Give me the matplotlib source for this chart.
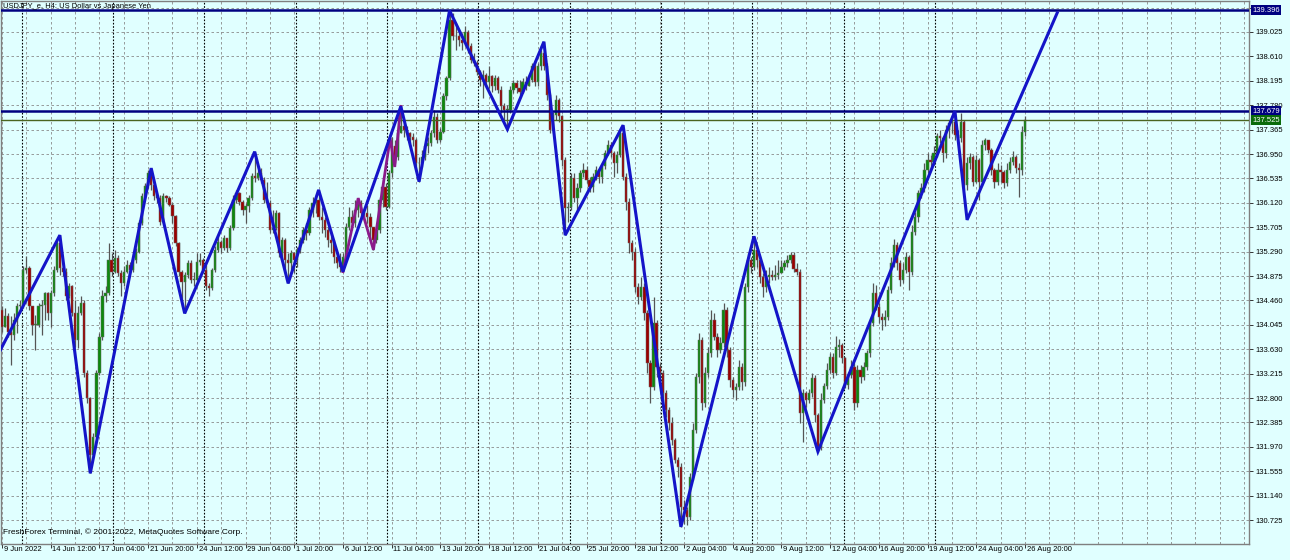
import matplotlib
matplotlib.use("Agg")
import matplotlib.pyplot as plt
import numpy as np

# H4 candles, 9 Jun 2022 20:00 .. 26 Aug 2022 20:00 (one value per bar)
first_open = 134.30
closes = [
    134.01, 134.19, 133.93, 133.87, 134.13, 134.36, 134.38, 134.98, 135.01, 134.36,
    134.04, 134.04, 134.36, 134.38, 134.58, 134.24, 134.58, 134.98, 135.43, 135.01,
    134.95, 134.53, 134.70, 134.24, 133.79, 134.24, 134.41, 133.22, 132.80, 131.83,
    132.14, 133.22, 133.84, 134.53, 134.58, 135.15, 134.95, 135.18, 134.92, 134.75,
    134.95, 135.06, 134.98, 135.15, 135.29, 135.77, 136.23, 136.40, 136.62, 136.42,
    136.23, 136.20, 135.80, 136.23, 136.20, 136.08, 135.89, 135.43, 134.95, 134.78,
    134.89, 135.09, 134.81, 134.81, 135.12, 135.15, 134.98, 134.70, 134.67, 134.98,
    135.32, 135.46, 135.35, 135.52, 135.35, 135.69, 136.17, 136.28, 136.14, 136.00,
    136.06, 136.20, 136.57, 136.54, 136.62,
    136.51, 136.17, 136.11, 135.66, 135.69, 135.94, 135.26, 135.49, 135.15, 135.09,
    135.26, 135.15, 135.32, 135.49, 135.66, 135.60, 136.00, 136.11, 136.17, 135.88,
    135.83, 135.66, 135.49, 135.43, 135.20, 135.09, 135.03, 135.20, 135.71, 135.88,
    135.77, 136.00, 136.11, 135.94, 135.94, 135.88, 135.71, 135.49, 135.66, 136.17,
    136.39, 136.05, 136.62, 137.08, 136.90, 137.30, 137.42, 137.36, 137.30, 137.24,
    137.19, 136.79, 136.79, 136.90, 137.08, 137.13, 137.30, 137.58, 137.19, 137.33,
    137.93, 138.24, 139.23, 138.95, 138.95, 138.89, 138.83, 139.03, 138.78, 138.55,
    138.49, 138.35, 138.21, 138.29, 138.18, 138.27, 138.10, 138.24, 138.04, 137.76,
    137.70, 137.70, 138.04, 138.15, 138.07,
    138.01, 138.18, 138.10, 138.21, 138.44, 138.18, 138.44, 138.66, 138.44, 137.95,
    137.36, 137.61, 137.87, 137.59, 136.85, 136.03, 136.05, 136.54, 136.20, 136.37,
    136.62, 136.68, 136.51, 136.39, 136.56, 136.68, 136.56, 136.74, 136.96, 137.10,
    136.96, 136.79, 136.93, 137.30, 136.56, 136.14, 135.43, 135.29, 134.69, 134.52,
    134.69, 134.24, 133.39, 132.99, 134.07, 133.33, 133.22, 132.88, 132.60, 132.37,
    132.09, 131.75, 131.63, 130.95, 130.89, 130.78, 131.46, 132.26, 133.16, 133.79,
    132.71, 133.22, 133.56, 134.13, 133.84, 133.62, 133.73, 134.30, 133.62, 133.11,
    132.94, 132.99, 133.33, 133.08, 134.69, 135.15, 135.03, 135.32, 135.15, 134.86,
    134.69, 134.86, 134.89, 134.86, 134.89, 134.92,
    135.03, 135.09, 135.15, 135.23, 135.00, 134.95, 132.54, 132.88, 132.77, 132.88,
    133.14, 132.51, 131.97, 132.77, 133.00, 133.28, 133.50, 133.22, 133.67, 133.70,
    133.48, 133.02, 133.19, 133.33, 132.71, 133.28, 133.16, 133.33, 133.56, 134.07,
    134.58, 134.35, 134.18, 134.13, 134.18, 134.64, 135.09, 135.40, 135.09, 134.81,
    134.98, 135.20, 134.95, 135.63, 135.88, 136.28, 136.37, 136.68, 136.85, 136.82,
    136.96, 137.25, 137.22, 136.96, 137.36, 137.47, 137.50, 137.27, 137.22, 137.50,
    136.42, 136.79, 136.90, 136.48, 136.85, 136.48, 137.10, 137.19, 137.02, 136.68,
    136.48, 136.68, 136.65, 136.45, 136.68, 136.82, 136.90, 136.71, 136.68, 137.33,
    137.53,
]
highs = [
    134.36, 134.33, 134.24, 134.19, 134.24, 134.41, 134.47, 135.04, 135.21, 135.04,
    134.36, 134.21, 134.41, 134.47, 134.61, 134.61, 134.64, 135.04, 135.49, 135.57,
    135.09, 135.01, 134.75, 134.72, 134.47, 134.36, 134.53, 134.47, 133.28, 132.82,
    132.20, 133.28, 133.90, 134.64, 134.70, 135.43, 135.26, 135.32, 135.23, 134.98,
    135.04, 135.15, 135.12, 135.18, 135.35, 135.83, 136.28, 136.45, 136.68, 136.71,
    136.48, 136.28, 136.25, 136.28, 136.25, 136.23, 136.11, 135.91, 135.46, 134.98,
    134.95, 135.15, 135.15, 134.95, 135.26, 135.26, 135.18, 135.06, 134.75, 135.01,
    135.38, 135.57, 135.49, 135.57, 135.52, 135.74, 136.25, 136.34, 136.31, 136.17,
    136.11, 136.25, 136.62, 136.99, 136.68,
    136.71, 136.56, 136.48, 136.17, 136.00, 136.00, 135.97, 135.54, 135.52, 135.26,
    135.32, 135.29, 135.37, 135.54, 135.71, 135.77, 136.05, 136.22, 136.25, 136.34,
    136.05, 135.88, 135.71, 135.60, 135.49, 135.26, 135.26, 135.26, 135.77, 136.05,
    136.00, 136.17, 136.20, 136.17, 136.05, 136.08, 135.94, 135.71, 135.71, 136.22,
    136.51, 136.45, 136.68, 137.24, 137.19, 137.58, 137.76, 137.47, 137.42, 137.33,
    137.30, 137.22, 136.90, 137.02, 137.13, 137.24, 137.36, 137.70, 137.64, 137.39,
    137.98, 138.27, 139.39, 139.34, 139.17, 139.06, 139.00, 139.12, 139.06, 138.83,
    138.66, 138.55, 138.38, 138.38, 138.32, 138.44, 138.29, 138.29, 138.27, 138.10,
    137.81, 137.78, 138.10, 138.21, 138.21,
    138.21, 138.24, 138.27, 138.30, 138.49, 138.55, 138.49, 138.72, 138.86, 138.49,
    137.98, 137.67, 137.95, 137.90, 137.61, 136.90, 136.14, 136.62, 136.62, 136.45,
    136.68, 136.79, 136.74, 136.56, 136.62, 136.74, 136.70, 136.79, 137.02, 137.19,
    137.16, 137.00, 137.00, 137.36, 137.44, 136.62, 136.20, 135.49, 135.35, 134.75,
    134.86, 134.75, 134.30, 133.45, 134.52, 134.13, 133.39, 133.28, 132.94, 132.65,
    132.48, 132.12, 131.80, 131.70, 131.06, 130.95, 131.52, 132.37, 133.22, 133.90,
    133.84, 133.33, 133.67, 134.30, 134.24, 133.90, 133.84, 134.41, 134.35, 133.67,
    133.16, 133.05, 133.45, 133.39, 134.75, 135.26, 135.20, 135.55, 135.35, 135.20,
    134.92, 134.98, 135.03, 134.98, 135.06, 135.15,
    135.15, 135.15, 135.23, 135.28, 135.28, 135.09, 135.00, 132.95, 132.92, 132.95,
    133.22, 133.19, 132.54, 132.88, 133.05, 133.39, 133.56, 133.56, 133.85, 133.80,
    133.73, 133.50, 133.25, 133.45, 133.39, 133.36, 133.36, 133.42, 133.62, 134.13,
    134.75, 134.72, 134.41, 134.24, 134.30, 134.70, 135.20, 135.51, 135.46, 135.15,
    135.09, 135.28, 135.23, 135.74, 135.97, 136.34, 136.45, 136.79, 136.96, 136.93,
    137.08, 137.30, 137.36, 137.25, 137.44, 137.53, 137.62, 137.68, 137.36, 137.64,
    137.53, 136.90, 136.96, 136.93, 136.93, 136.88, 137.19, 137.22, 137.19, 137.05,
    136.71, 136.79, 136.76, 136.68, 136.79, 136.90, 137.00, 136.93, 136.79, 137.42,
    137.59,
]
lows = [
    133.93, 134.01, 133.84, 133.36, 133.79, 133.90, 134.24, 134.33, 134.92, 134.30,
    133.87, 133.62, 134.01, 133.87, 134.13, 134.13, 134.01, 134.53, 134.95, 134.89,
    134.87, 134.47, 134.50, 134.19, 133.67, 133.65, 134.21, 133.16, 132.71, 131.52,
    131.80, 132.12, 133.19, 133.79, 134.44, 134.55, 134.87, 134.92, 134.87, 134.53,
    134.70, 134.92, 134.92, 134.95, 135.09, 135.26, 135.74, 136.20, 136.37, 136.34,
    136.17, 136.11, 135.74, 135.77, 136.14, 136.06, 135.77, 135.38, 134.87, 134.36,
    134.24, 134.84, 134.75, 134.70, 134.78, 135.06, 134.92, 134.64, 134.53, 134.64,
    134.95, 135.29, 135.26, 135.32, 135.29, 135.32, 135.66, 136.11, 136.08, 135.91,
    135.77, 135.97, 136.17, 136.48, 136.51,
    136.45, 136.11, 136.05, 135.60, 135.60, 135.66, 135.20, 135.20, 134.92, 134.75,
    134.98, 134.92, 135.03, 135.26, 135.43, 135.49, 135.57, 135.88, 135.94, 135.83,
    135.60, 135.54, 135.37, 135.26, 135.09, 135.01, 134.95, 134.95, 135.15, 135.66,
    135.66, 135.71, 135.88, 135.83, 135.83, 135.77, 135.49, 135.32, 135.43, 135.60,
    136.05, 136.00, 136.03, 136.56, 136.79, 136.85, 137.30, 137.24, 137.19, 137.13,
    137.08, 136.68, 136.48, 136.73, 136.85, 136.96, 137.08, 137.24, 137.13, 137.16,
    137.30, 137.87, 138.21, 138.89, 138.72, 138.78, 138.72, 138.78, 138.66, 138.49,
    138.44, 138.29, 138.10, 137.90, 138.10, 138.07, 138.01, 138.04, 137.98, 137.64,
    137.53, 137.37, 137.64, 137.98, 137.98,
    137.95, 137.98, 138.04, 138.10, 138.18, 138.10, 138.10, 138.38, 138.38, 137.87,
    137.30, 137.30, 137.53, 137.50, 136.74, 135.57, 135.80, 136.00, 136.14, 136.00,
    136.30, 136.56, 136.45, 136.30, 136.30, 136.51, 136.45, 136.45, 136.70, 136.93,
    136.90, 136.56, 136.62, 136.90, 136.50, 136.00, 135.26, 135.15, 134.60, 134.40,
    134.46, 134.13, 133.22, 132.71, 132.94, 133.16, 133.11, 132.77, 132.48, 132.26,
    132.00, 131.70, 131.46, 130.61, 130.66, 130.64, 130.72, 131.40, 132.20, 133.05,
    132.60, 132.65, 133.16, 133.50, 133.79, 133.50, 133.56, 133.67, 133.50, 132.99,
    132.82, 132.77, 132.94, 132.94, 133.00, 134.60, 134.92, 134.98, 135.03, 134.75,
    134.52, 134.60, 134.75, 134.80, 134.80, 134.83,
    134.92, 134.98, 135.03, 135.09, 134.95, 134.90, 132.37, 132.06, 132.65, 132.71,
    132.82, 132.40, 131.89, 131.92, 132.71, 132.95, 133.22, 133.14, 133.19, 133.50,
    133.39, 132.97, 132.95, 133.14, 132.60, 132.65, 133.05, 133.10, 133.28, 133.50,
    134.02, 134.30, 134.07, 133.96, 134.02, 134.13, 134.58, 135.03, 134.98, 134.70,
    134.75, 134.92, 134.64, 134.90, 135.57, 135.80, 136.20, 136.30, 136.62, 136.70,
    136.76, 136.90, 137.13, 136.82, 136.88, 137.22, 137.30, 137.19, 137.10, 137.16,
    136.34, 136.34, 136.70, 136.40, 136.45, 136.17, 136.42, 137.02, 136.96, 136.60,
    136.37, 136.42, 136.48, 136.37, 136.40, 136.62, 136.76, 136.62, 136.22, 136.60,
    137.25,
]

# zigzag pivots (bar index, price)
zz_bar = [-1, 19, 29, 49, 60, 83, 94, 104, 112, 131, 137, 147, 166, 178, 185,
          204, 223, 247, 268, 313, 317, 346.6]
zz_price = [133.57, 135.57, 131.52, 136.71, 134.24, 136.99, 134.75, 136.34, 134.95,
            137.76, 136.48, 139.39, 137.37, 138.86, 135.57, 137.44, 130.61, 135.55,
            131.89, 137.68, 135.83, 139.35]
# smaller zigzag (purple)
zz2_bar = [112, 117, 122, 127.5, 129, 131]
zz2_price = [134.95, 136.20, 135.32, 137.22, 136.73, 137.76]

# horizontal levels
level_high = 139.396
level_mid = 137.679
level_bid = 137.525

yticks = [130.725, 131.140, 131.555, 131.970, 132.385, 132.800, 133.215, 133.630,
          134.045, 134.460, 134.875, 135.290, 135.705, 136.120, 136.535, 136.950,
          137.365, 137.780, 138.195, 138.610, 139.025, 139.440]
# the top tick label sits under the 139.396 box, so it is not printed
hidden_tick = 139.440

xlabels = ["9 Jun 2022", "14 Jun 12:00", "17 Jun 04:00", "21 Jun 20:00", "24 Jun 12:00",
           "29 Jun 04:00", "1 Jul 20:00", "6 Jul 12:00", "11 Jul 04:00", "13 Jul 20:00",
           "18 Jul 12:00", "21 Jul 04:00", "25 Jul 20:00", "28 Jul 12:00", "2 Aug 04:00",
           "4 Aug 20:00", "9 Aug 12:00", "12 Aug 04:00", "16 Aug 20:00", "19 Aug 12:00",
           "24 Aug 04:00", "26 Aug 20:00"]
bars_per_label = 16
week_starts = [7, 37, 67, 97, 127, 157, 187, 217, 247, 277, 307]

plt.rcParams['font.family'] = ['Liberation Sans', 'DejaVu Sans']
bg = '#e0ffff'
W, H = 1290, 560
fig = plt.figure(figsize=(W / 100, H / 100), dpi=100, facecolor=bg)
ax = fig.add_axes([1 / W, 1 - 544 / H, 1248 / W, 543 / H], facecolor=bg)

n = len(closes)
x = np.arange(n)
c = np.array(closes)
o = np.concatenate([[first_open], c[:-1]])
h = np.maximum(np.array(highs), np.maximum(o, c))
l = np.minimum(np.array(lows), np.minimum(o, c))

ax.set_xlim(-0.33, 409.6)
ax.set_ylim(130.318, 139.552)

# grid
for yt in yticks:
    ax.axhline(yt, color='#8a8a8a', lw=0.6, ls=(0, (3, 3)), zorder=0)
for xv in range(0, 410, 8):
    ax.axvline(xv, color='#8a8a8a', lw=0.6, ls=(0, (3, 3)), zorder=0)
for xv in week_starts:
    ax.axvline(xv - 0.5, color='#000000', lw=0.8, ls=(0, (1.5, 1.5)), zorder=0.5)

# candles
up = c >= o
ax.vlines(x, l, h, color='#555555', lw=0.9, zorder=2)
body_low = np.minimum(o, c)
body_h = np.maximum(np.abs(c - o), 0.012)
ax.bar(x[up], body_h[up], bottom=body_low[up], width=0.74, color='#0d8a0d',
       edgecolor='#666666', linewidth=0.35, zorder=3)
ax.bar(x[~up], body_h[~up], bottom=body_low[~up], width=0.74, color='#9c0000',
       edgecolor='#666666', linewidth=0.35, zorder=3)

# levels
ax.axhline(level_high, color='#000080', lw=1.8, zorder=4)
ax.axhline(level_mid, color='#000080', lw=1.8, zorder=4)
ax.axhline(level_bid, color='#4a6420', lw=1.0, zorder=4)

# zigzags
ax.plot(zz2_bar, zz2_price, color='#8b1a8b', lw=2.0, zorder=5, solid_joinstyle='miter')
ax.plot(zz_bar, zz_price, color='#1414c8', lw=2.2, zorder=6, solid_joinstyle='miter')

# axes styling
for side in ['left', 'right', 'bottom', 'top']:
    ax.spines[side].set_color('#7f7f7f')
    ax.spines[side].set_linewidth(1.0)
ax.yaxis.tick_right()
ax.set_yticks(yticks)
ax.set_yticklabels(["" if v == hidden_tick else f"{v:.3f}" for v in yticks])
ax.tick_params(axis='y', direction='out', length=3, width=0.7, color='#333333',
               labelsize=5.5, pad=1.5, labelcolor='#000000')
label_x = [i * bars_per_label for i in range(len(xlabels))]
ax.set_xticks(label_x)
ax.set_xticklabels([])
ax.tick_params(axis='x', direction='out', length=3, width=0.7, color='#333333')
for xi, lbl in zip(label_x, xlabels):
    ax.annotate(lbl, xy=(xi, 0), xycoords=('data', 'axes fraction'),
                xytext=(1.2, -1.2), textcoords='offset points',
                ha='left', va='top', fontsize=5.5, color='#000000')

# price boxes on the right scale
for val, fc in [(level_high, '#000080'), (level_mid, '#000080'), (level_bid, '#0a6a0a')]:
    ax.annotate(f"{val:.3f}", xy=(1, val), xycoords=('axes fraction', 'data'),
                xytext=(2.2, 0), textcoords='offset points', ha='left', va='center',
                fontsize=5.5, color='white', zorder=10, annotation_clip=False,
                bbox=dict(boxstyle='square,pad=0.2', fc=fc, ec='none'))

fig.text(3 / W, 1 - 7 / H, "USDJPY_e, H4: US Dollar vs Japanese Yen", fontsize=5.4,
         ha='left', va='center', color='#000000')
fig.text(3 / W, 1 - 532 / H, "FreshForex Terminal, \u00a9 2001-2022, MetaQuotes Software Corp.",
         fontsize=6.0, ha='left', va='center', color='#000000')

fig.savefig('out.png', dpi=100, facecolor=bg)
